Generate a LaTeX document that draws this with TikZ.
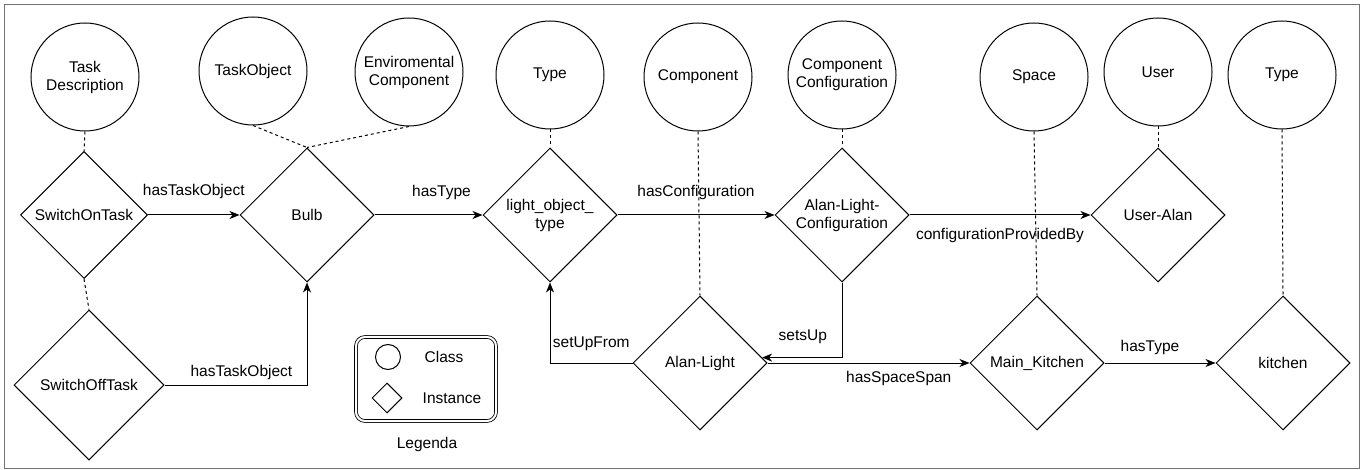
\documentclass[tikz,border=0pt]{standalone}
\usepackage{fontspec}
\setmainfont{Liberation Sans}
\usetikzlibrary{shapes.geometric,arrows.meta}
\begin{document}
\begin{tikzpicture}[x=1bp,y=-1bp,
  font=\fontsize{15.5bp}{18bp}\selectfont,
  cls/.style={circle,draw,line width=1bp,minimum size=108bp,inner sep=0pt,align=center},
  inst/.style={diamond,draw,line width=1bp,minimum width=134bp,minimum height=134bp,aspect=1,inner sep=0pt,align=center},
  rel/.style={line width=1bp,-{Stealth[length=10bp,width=8bp,inset=3bp]}},
  typ/.style={line width=1bp,dash pattern=on 3bp off 3bp},
  lbl/.style={inner sep=0pt}]
\useasboundingbox (0,0) rectangle (1362,470);
\draw[black!55,line width=1bp] (4,5) rectangle (1359,468);
% classes
\node[cls] (td) at (85,77) {Task\\Description};
\node[cls] (to) at (253,71) {TaskObject};
\node[cls] (ec) at (409,72) {Enviromental\\Component};
\node[cls] (t1) at (550,75) {Type};
\node[cls] (comp) at (698,77) {Component};
\node[cls] (cc) at (842,75) {Component\\Configuration};
\node[cls] (sp) at (1034,77) {Space};
\node[cls] (us) at (1158,72) {User};
\node[cls] (t2) at (1282,75) {Type};
% instances
\node[inst,minimum width=127bp,minimum height=127bp] (son) at (84,215) {SwitchOnTask};
\node[inst,minimum width=150bp,minimum height=150bp] (soff) at (89,385) {SwitchOffTask};
\node[inst] (bulb) at (307,215) {Bulb};
\node[inst] (lot) at (550,215) {light\_object\_\\type};
\node[inst] (alc) at (842,215) {Alan-Light-\\Configuration};
\node[inst] (ua) at (1158,215) {User-Alan};
\node[inst] (al) at (700,363) {Alan-Light};
\node[inst] (mk) at (1037,363) {Main\_Kitchen};
\node[inst] (k) at (1283,363) {kitchen};
% typing (dashed)
\draw[typ] (td.south) -- (son.north);
\draw[typ] (son.south) -- (soff.north);
\draw[typ] (to.south) -- (bulb.north);
\draw[typ] (ec.south) -- (bulb.north);
\draw[typ] (t1.south) -- (lot.north);
\draw[typ] (comp.south) -- (al.north);
\draw[typ] (cc.south) -- (alc.north);
\draw[typ] (sp.south) -- (mk.north);
\draw[typ] (us.south) -- (ua.north);
\draw[typ] (t2.south) -- (k.north);
% relations
\draw[rel] (son.east) -- node[lbl,yshift=24bp]{hasTaskObject} (bulb.west);
\draw[rel] (bulb.east) -- node[lbl,pos=0.62,yshift=23bp]{hasType} (lot.west);
\draw[rel] (lot.east) -- node[lbl,yshift=23bp]{hasConfiguration} (alc.west);
\draw[rel] (alc.east) -- node[lbl,yshift=-20bp]{configurationProvidedBy} (ua.west);
\draw[rel] (soff.east) -| node[lbl,pos=0.27,yshift=13bp]{hasTaskObject} (bulb.south);
\draw[rel] (al.west) -| node[lbl,pos=0.25,yshift=19bp]{setUpFrom} (lot.south);
\draw[rel] (alc.south) |- node[lbl,pos=0.745,yshift=21bp]{setsUp} (al.5.6);
\draw[rel] (al.east) -- node[lbl,pos=0.65,yshift=-15bp]{hasSpaceSpan} (mk.west);
\draw[rel] (mk.east) -- node[lbl,pos=0.41,yshift=16bp]{hasType} (k.west);
% legend
\node[draw,line width=0.8bp,double,double distance=2bp,rounded corners=9bp,minimum width=140bp,minimum height=84bp] (leg) at (426,379) {};
\node[circle,draw,line width=1bp,minimum size=25bp,inner sep=0pt] (lc) at (388,357) {};
\node[diamond,draw,line width=1bp,minimum width=30bp,minimum height=30bp,inner sep=0pt] (ld) at (387,398) {};
\node (lct) at (444,357) {Class};
\node (ldt) at (452,398) {Instance};
\node (lt) at (427,444) {Legenda};
\end{tikzpicture}
\end{document}
